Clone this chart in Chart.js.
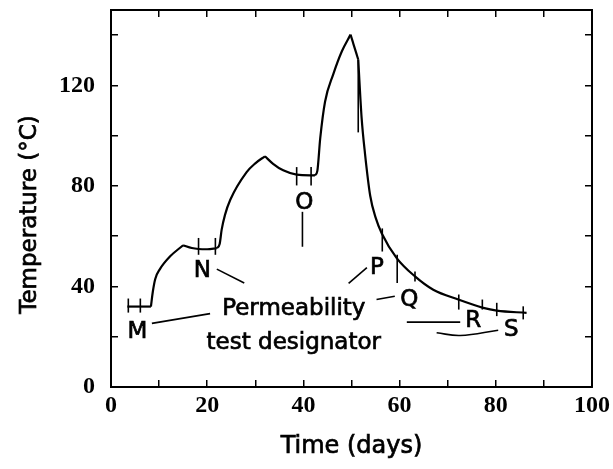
<!DOCTYPE html>
<html>
<head>
<meta charset="utf-8">
<script src="https://cdn.jsdelivr.net/npm/chart.js@4"></script>
<style>
  html, body { margin: 0; padding: 0; background: #fff; }
  #wrap { width: 613px; height: 469px; }
</style>
</head>
<body>
<div id="wrap"><canvas id="chartSuhu" width="613" height="469"></canvas></div>
<script>
// ===== DATA KURVA (hari, suhu) =====
const curveDays  = [3.4, 8.3, 8.7, 9.2, 10.2, 12.3, 15.0, 16.8, 18.2, 20.0, 22.0, 22.6, 23.0, 23.7, 24.8, 28.2, 30.0, 32.0,
                    33.7, 35.8, 38.6, 42.4, 42.9, 43.5, 44.5, 46.2, 48.0, 49.8, 51.4, 52.1, 52.8, 53.9, 55.0, 56.3,
                    59.4, 63.2, 67.0, 72.2, 77.4, 80.2, 86.4];
const curveTemps = [32, 32, 38, 43, 47, 52, 56.4, 55.3, 54.9, 54.8, 55.2, 57, 62.5, 68.5, 74.5, 85.5, 89, 91.8,
                    88.8, 86.2, 84.5, 84.2, 86, 99, 113.5, 124.4, 133.6, 140.2, 130.3, 107.2, 93, 76, 67.5, 61.1,
                    51.3, 44, 38.7, 34.8, 31.5, 30.4, 29.5];
// indeks titik patah (puncak / sudut)
const curveBreaks = [0, 1, 6, 10, 17, 21, 27, 28, 40];

// ===== TANDA UJI (garis tegak kecil) =====
const tickDays = [3.6, 6.1, 18.2, 21.7, 38.6, 41.6, 51.4, 56.4, 59.5, 63.2, 72.3, 77.2, 80.2, 85.7];
const tickLow  = [29.6, 29.6, 52.6, 52.6, 80.2, 80.2, 101.3, 53.9, 41.4, 42, 30.8, 30.8, 28.2, 26.9];
const tickHigh = [35.2, 35.2, 59.3, 59.3, 87.5, 87.5, 130.3, 63.1, 52.6, 46, 36.8, 34.8, 33.5, 32.1];

// ===== GARIS PENUNJUK =====
const leaderX1 = [8.5, 22.0, 39.8, 53.2, 59.0, 61.5];
const leaderY1 = [25.3, 46.9, 55.8, 47.5, 36.1, 25.8];
const leaderX2 = [20.6, 27.7, 39.8, 49.4, 55.2, 72.6];
const leaderY2 = [29.2, 41.4, 69.7, 41.2, 34.8, 25.8];
const sLeaderDays  = [67.7, 72.6, 80.5];
const sLeaderTemps = [21.6, 20.5, 22.6];

// ===== HURUF PENANDA =====
const designators     = ["M", "N", "O", "P", "Q", "R", "S"];
const designatorDays  = [5.5, 19.0, 40.2, 55.3, 62.0, 75.3, 83.2];
const designatorTemps = [22, 46, 73, 47.3, 34.8, 26.2, 22.6];
const captionLines = ["Permeability", "test designator"];
const captionDay   = 38.0;
const captionTemps = [28.5, 15];

const hitam = "#000";

// ===== SUSUN DATASET =====
const datasets = [];
for (let i = 0; i < curveBreaks.length - 1; i++) {
  const pts = [];
  for (let k = curveBreaks[i]; k <= curveBreaks[i + 1]; k++) {
    pts.push({ x: curveDays[k], y: curveTemps[k] });
  }
  datasets.push({ data: pts, borderColor: hitam, borderWidth: 2.2, pointRadius: 0,
                  showLine: true, cubicInterpolationMode: "monotone" });
}
tickDays.forEach((d, i) => {
  datasets.push({ data: [{ x: d, y: tickLow[i] }, { x: d, y: tickHigh[i] }],
                  borderColor: hitam, borderWidth: 1.6, pointRadius: 0, showLine: true });
});
leaderX1.forEach((d, i) => {
  datasets.push({ data: [{ x: d, y: leaderY1[i] }, { x: leaderX2[i], y: leaderY2[i] }],
                  borderColor: hitam, borderWidth: 1.6, pointRadius: 0, showLine: true });
});
datasets.push({ data: sLeaderDays.map((d, i) => ({ x: d, y: sLeaderTemps[i] })),
                borderColor: hitam, borderWidth: 1.6, pointRadius: 0, showLine: true, tension: 0.4 });

// tulis teks sedikit lebih tebal (fill + stroke tipis)
function tulis(ctx, t, x, y) {
  ctx.fillText(t, x, y);
  ctx.strokeText(t, x, y);
}

// ===== TEKS PADA GRAFIK =====
const teksPlugin = {
  id: "teks",
  afterDatasetsDraw(chart) {
    const { ctx, chartArea, scales: { x, y } } = chart;
    ctx.save();
    ctx.fillStyle = hitam;
    ctx.strokeStyle = hitam;
    ctx.lineWidth = 0.7;
    ctx.textAlign = "center";
    ctx.font = "23px 'DejaVu Sans'";
    ctx.textBaseline = "middle";
    designators.forEach((t, i) => {
      tulis(ctx, t, x.getPixelForValue(designatorDays[i]), y.getPixelForValue(designatorTemps[i]));
    });
    ctx.textBaseline = "alphabetic";
    captionLines.forEach((t, i) => {
      tulis(ctx, t, x.getPixelForValue(captionDay), y.getPixelForValue(captionTemps[i]));
    });
    // judul sumbu
    ctx.font = "24px 'DejaVu Sans'";
    tulis(ctx, "Time (days)", (chartArea.left + chartArea.right) / 2, chartArea.bottom + 66);
    ctx.translate(36, (chartArea.top + chartArea.bottom) / 2 + 16);
    ctx.rotate(-Math.PI / 2);
    ctx.font = "23px 'DejaVu Sans'";
    tulis(ctx, "Temperature (\u00B0C)", 0, 0);
    ctx.restore();
  }
};

const angkaFont = { family: "'Liberation Serif'", size: 24, weight: "bold" };
const gridDalam = { drawOnChartArea: false, tickLength: -7, color: hitam, lineWidth: 1.5 };

// ukuran kotak sumbu dipaku supaya area plot pas
function pasUkuran(w, h) {
  return s => {
    if (w !== null) s.width = w;
    if (h !== null) s.height = h;
    s.paddingTop = 0; s.paddingBottom = 0; s.paddingLeft = 0; s.paddingRight = 0;
  };
}

// ===== BUAT CHART =====
new Chart(document.getElementById("chartSuhu"), {
  type: "scatter",
  data: { datasets: datasets },
  plugins: [teksPlugin],
  options: {
    responsive: false,
    animation: false,
    layout: { autoPadding: false, padding: 0 },
    plugins: { legend: { display: false }, tooltip: { enabled: false } },
    scales: {
      x: {
        type: "linear", position: "bottom", min: 0, max: 100,
        afterFit: pasUkuran(null, 82),
        border: { color: hitam, width: 2 },
        grid: gridDalam,
        ticks: { stepSize: 10, padding: 11, color: hitam, font: angkaFont, autoSkip: false, maxRotation: 0,
                 callback: v => (v % 20 === 0 ? v : "") }
      },
      x2: {
        type: "linear", position: "top", min: 0, max: 100,
        afterFit: pasUkuran(null, 10),
        border: { color: hitam, width: 2 },
        grid: gridDalam,
        ticks: { stepSize: 10, autoSkip: false, callback: () => "" }
      },
      y: {
        type: "linear", position: "left", min: 0, max: 150,
        afterFit: pasUkuran(111, null),
        border: { color: hitam, width: 2 },
        grid: gridDalam,
        ticks: { stepSize: 20, padding: 23, color: hitam, font: angkaFont, includeBounds: false,
                 callback: v => (v % 40 === 0 ? v : "") }
      },
      y2: {
        type: "linear", position: "right", min: 0, max: 150,
        afterFit: pasUkuran(21, null),
        border: { color: hitam, width: 2 },
        grid: gridDalam,
        ticks: { stepSize: 20, includeBounds: false, callback: () => "" }
      }
    }
  }
});
</script>
</body>
</html>
